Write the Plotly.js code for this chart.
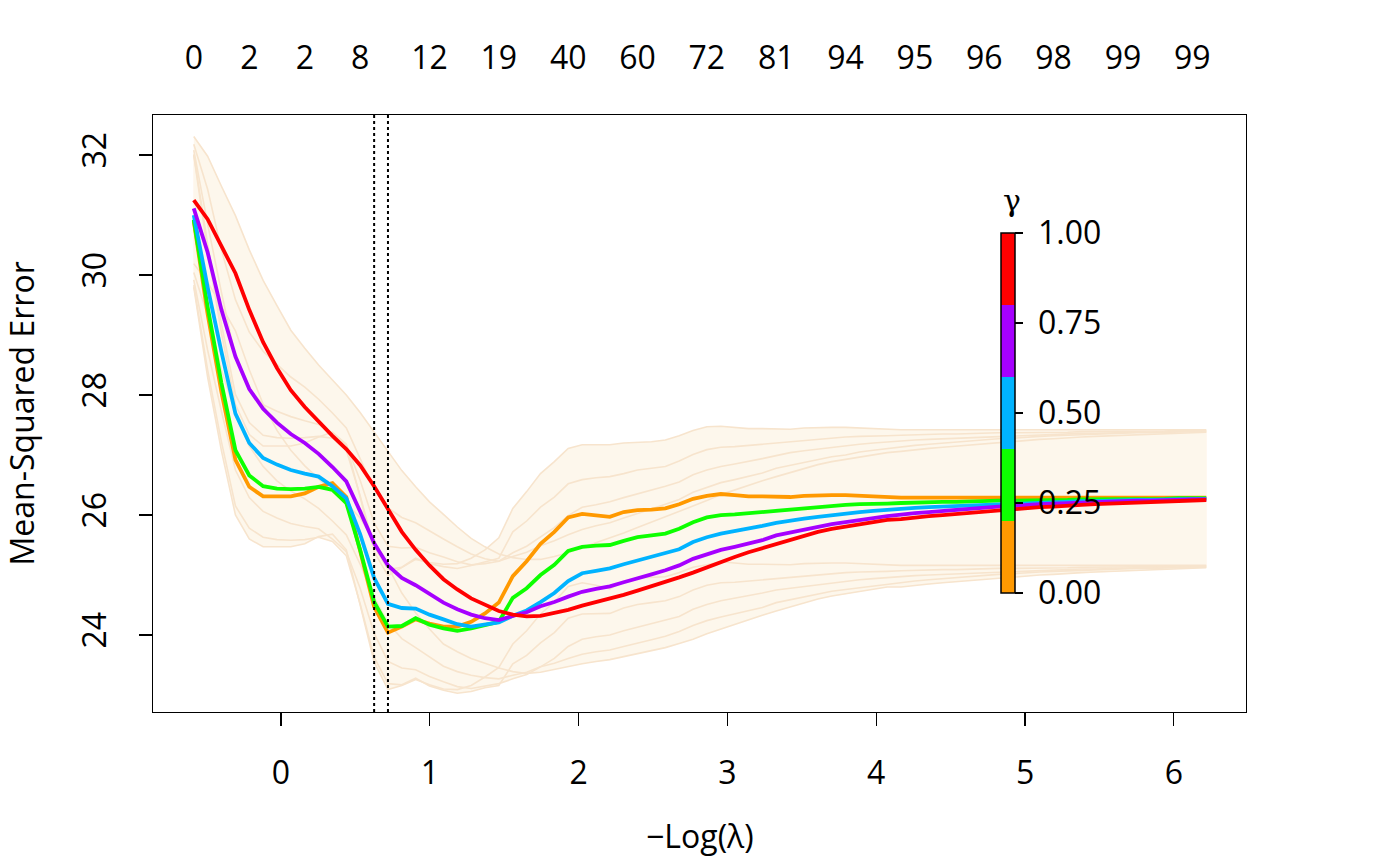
<!DOCTYPE html>
<html>
<head>
<meta charset="utf-8">
<script src="https://cdn.plot.ly/plotly-3.0.1.min.js"></script>
<style>
  html, body { margin: 0; padding: 0; background: #fff; }
  #chart { width: 1400px; height: 866px; }
</style>
</head>
<body>
<div id="chart"></div>
<script>
// -log(lambda) path of the relaxed fit
var logLambda = [
  -0.586, -0.493, -0.400, -0.306, -0.213, -0.120, -0.027, 0.066, 0.160, 0.253,
  0.346, 0.439, 0.532, 0.626, 0.719, 0.812, 0.905, 0.998, 1.092, 1.185,
  1.278, 1.371, 1.464, 1.558, 1.651, 1.744, 1.837, 1.930, 2.024, 2.117,
  2.210, 2.303, 2.396, 2.490, 2.583, 2.676, 2.769, 2.862, 2.956, 3.049,
  3.142, 3.235, 3.328, 3.422, 3.515, 3.608, 3.701, 3.794, 3.888, 3.981,
  4.074, 4.167, 4.260, 4.354, 4.447, 4.540, 4.633, 4.726, 4.820, 4.913,
  5.006, 5.099, 5.192, 5.286, 5.379, 5.472, 5.565, 5.658, 5.752, 5.845,
  5.938, 6.031, 6.124, 6.218
];

// number of nonzero coefficients (top axis), at path positions
var nzeroIdx    = [0, 4, 8, 12, 17, 22, 27, 32, 37, 42, 47, 52, 57, 62, 67, 72];
var nzeroLabels = ["0", "2", "2", "8", "12", "19", "40", "60", "72", "81", "94", "95", "96", "98", "99", "99"];

// lambda.1se and lambda.min positions
var idx1se = 13;
var idxMin = 14;

var gammas = [0, 0.25, 0.5, 0.75, 1];
var gammaColors = ["#FF9900", "#0DFF00", "#00B3FF", "#A600FF", "#FF0000"];

// mean CV error per gamma
var cvm_g0 = [
  30.90, 29.35, 28.05, 26.92, 26.47, 26.31, 26.31, 26.31, 26.36, 26.47,
  26.53, 26.30, 25.40, 24.47, 24.04, 24.14, 24.26, 24.19, 24.14, 24.14,
  24.22, 24.36, 24.54, 24.98, 25.23, 25.52, 25.72, 25.96, 26.02, 26.00,
  25.97, 26.05, 26.08, 26.09, 26.11, 26.18, 26.27, 26.32, 26.35, 26.33,
  26.31, 26.31, 26.31, 26.30, 26.32, 26.33, 26.33, 26.33, 26.32, 26.30,
  26.29, 26.29, 26.29, 26.29, 26.29, 26.29, 26.29, 26.29, 26.29, 26.29,
  26.29, 26.29, 26.29, 26.29, 26.29, 26.29, 26.29, 26.29, 26.29, 26.29,
  26.29, 26.29, 26.29, 26.29
];
var cvm_g25 = [
  30.92, 29.47, 28.20, 27.08, 26.66, 26.48, 26.44, 26.43, 26.44, 26.47,
  26.42, 26.20, 25.42, 24.55, 24.14, 24.15, 24.28, 24.17, 24.11, 24.07,
  24.11, 24.17, 24.22, 24.62, 24.78, 25.00, 25.17, 25.40, 25.47, 25.49,
  25.50, 25.57, 25.63, 25.66, 25.69, 25.77, 25.88, 25.96, 26.00, 26.01,
  26.03, 26.05, 26.07, 26.09, 26.12, 26.14, 26.15, 26.17, 26.18, 26.18,
  26.19, 26.20, 26.21, 26.21, 26.22, 26.22, 26.23, 26.23, 26.24, 26.24,
  26.24, 26.25, 26.25, 26.25, 26.26, 26.26, 26.26, 26.27, 26.27, 26.27,
  26.27, 26.28, 26.28, 26.28
];
var cvm_g50 = [
  31.00, 29.80, 28.72, 27.69, 27.20, 26.95, 26.84, 26.75, 26.69, 26.64,
  26.48, 26.28, 25.68, 24.95, 24.52, 24.45, 24.44, 24.34, 24.26, 24.18,
  24.14, 24.17, 24.21, 24.32, 24.41, 24.55, 24.70, 24.90, 25.03, 25.07,
  25.11, 25.18, 25.24, 25.30, 25.36, 25.43, 25.55, 25.63, 25.69, 25.73,
  25.77, 25.82, 25.87, 25.91, 25.94, 25.97, 26.00, 26.03, 26.05, 26.07,
  26.09, 26.11, 26.12, 26.13, 26.14, 26.15, 26.16, 26.17, 26.18, 26.19,
  26.20, 26.21, 26.22, 26.22, 26.23, 26.23, 26.24, 26.24, 26.25, 26.25,
  26.26, 26.26, 26.27, 26.27
];
var cvm_g75 = [
  31.11, 30.38, 29.42, 28.64, 28.10, 27.77, 27.54, 27.35, 27.20, 27.02,
  26.80, 26.56, 26.06, 25.53, 25.16, 24.95, 24.83, 24.68, 24.54, 24.43,
  24.34, 24.28, 24.25, 24.32, 24.38, 24.48, 24.55, 24.64, 24.72, 24.77,
  24.81, 24.88, 24.94, 25.01, 25.08, 25.16, 25.27, 25.35, 25.42, 25.47,
  25.52, 25.58, 25.66, 25.71, 25.76, 25.81, 25.85, 25.88, 25.92, 25.95,
  25.98, 26.01, 26.03, 26.05, 26.07, 26.09, 26.11, 26.12, 26.14, 26.15,
  26.17, 26.18, 26.19, 26.20, 26.21, 26.22, 26.23, 26.23, 26.24, 26.24,
  26.25, 26.25, 26.26, 26.26
];
var cvm_g100 = [
  31.25, 30.93, 30.48, 30.03, 29.42, 28.88, 28.45, 28.08, 27.80, 27.55,
  27.32, 27.10, 26.83, 26.48, 26.10, 25.72, 25.42, 25.16, 24.93, 24.76,
  24.61, 24.50, 24.40, 24.34, 24.31, 24.32, 24.37, 24.42, 24.49, 24.55,
  24.60, 24.67, 24.74, 24.81, 24.88, 24.96, 25.04, 25.13, 25.22, 25.30,
  25.38, 25.45, 25.52, 25.59, 25.66, 25.72, 25.77, 25.81, 25.84, 25.88,
  25.92, 25.93, 25.96, 25.98, 26.00, 26.02, 26.04, 26.06, 26.08, 26.10,
  26.11, 26.13, 26.14, 26.16, 26.17, 26.18, 26.19, 26.20, 26.21, 26.22,
  26.23, 26.24, 26.24, 26.25
];

// CV standard error per gamma
var cvsd_g0 = [
  1.10, 1.05, 0.98, 0.92, 0.87, 0.84, 0.84, 0.84, 0.84, 0.83,
  0.85, 0.88, 0.90, 0.92, 0.95, 0.98, 1.00, 1.02, 1.04, 1.05,
  1.06, 1.06, 1.08, 1.13, 1.16, 1.17, 1.17, 1.15, 1.15, 1.17,
  1.20, 1.15, 1.13, 1.13, 1.14, 1.14, 1.14, 1.15, 1.13, 1.13,
  1.13, 1.13, 1.13, 1.13, 1.13, 1.13, 1.13, 1.13, 1.13, 1.13,
  1.13, 1.13, 1.13, 1.13, 1.13, 1.13, 1.13, 1.13, 1.13, 1.13,
  1.13, 1.13, 1.13, 1.13, 1.13, 1.13, 1.13, 1.13, 1.13, 1.13,
  1.13, 1.13, 1.13, 1.13
];
var cvsd_g25 = [
  1.09, 1.05, 0.98, 0.93, 0.88, 0.85, 0.85, 0.85, 0.85, 0.84,
  0.86, 0.88, 0.90, 0.92, 0.95, 0.98, 1.00, 1.02, 1.03, 1.04,
  1.05, 1.05, 1.06, 1.10, 1.12, 1.13, 1.13, 1.12, 1.12, 1.13,
  1.14, 1.12, 1.12, 1.12, 1.12, 1.13, 1.13, 1.13, 1.13, 1.13,
  1.13, 1.13, 1.13, 1.13, 1.13, 1.13, 1.13, 1.13, 1.13, 1.13,
  1.13, 1.13, 1.13, 1.13, 1.13, 1.13, 1.13, 1.13, 1.13, 1.13,
  1.13, 1.13, 1.13, 1.13, 1.13, 1.13, 1.13, 1.13, 1.13, 1.13,
  1.13, 1.13, 1.13, 1.13
];
var cvsd_g50 = [
  1.08, 1.05, 0.99, 0.94, 0.91, 0.89, 0.89, 0.89, 0.88, 0.87,
  0.88, 0.89, 0.90, 0.92, 0.96, 1.00, 1.02, 1.03, 1.04, 1.04,
  1.03, 1.02, 1.02, 1.05, 1.07, 1.08, 1.09, 1.09, 1.10, 1.10,
  1.11, 1.11, 1.11, 1.11, 1.12, 1.12, 1.12, 1.12, 1.12, 1.12,
  1.12, 1.12, 1.12, 1.13, 1.13, 1.13, 1.13, 1.13, 1.13, 1.13,
  1.13, 1.13, 1.13, 1.13, 1.13, 1.13, 1.13, 1.13, 1.13, 1.13,
  1.13, 1.13, 1.13, 1.13, 1.13, 1.13, 1.13, 1.13, 1.13, 1.13,
  1.13, 1.13, 1.13, 1.13
];
var cvsd_g75 = [
  1.07, 1.05, 1.00, 0.95, 0.95, 0.96, 0.97, 0.95, 0.93, 0.91,
  0.90, 0.89, 0.88, 0.90, 0.96, 1.01, 1.04, 1.05, 1.06, 1.04,
  1.01, 0.99, 0.98, 0.99, 1.00, 1.01, 1.02, 1.03, 1.04, 1.05,
  1.06, 1.07, 1.08, 1.09, 1.10, 1.10, 1.11, 1.11, 1.12, 1.12,
  1.12, 1.12, 1.12, 1.12, 1.12, 1.12, 1.12, 1.12, 1.13, 1.13,
  1.13, 1.13, 1.13, 1.13, 1.13, 1.13, 1.13, 1.13, 1.13, 1.13,
  1.13, 1.13, 1.13, 1.13, 1.13, 1.13, 1.13, 1.13, 1.13, 1.13,
  1.13, 1.13, 1.13, 1.13
];
var cvsd_g100 = [
  1.06, 1.05, 1.00, 0.96, 1.00, 1.03, 1.04, 1.00, 0.98, 0.95,
  0.93, 0.90, 0.88, 0.90, 0.97, 1.02, 1.05, 1.06, 1.08, 1.04,
  1.00, 0.97, 0.95, 0.95, 0.95, 0.94, 0.94, 0.95, 0.97, 0.99,
  1.01, 1.03, 1.05, 1.07, 1.09, 1.10, 1.11, 1.11, 1.12, 1.12,
  1.12, 1.12, 1.12, 1.12, 1.12, 1.12, 1.12, 1.12, 1.12, 1.12,
  1.12, 1.13, 1.13, 1.13, 1.13, 1.13, 1.13, 1.13, 1.13, 1.13,
  1.13, 1.13, 1.13, 1.13, 1.13, 1.13, 1.13, 1.13, 1.13, 1.13,
  1.13, 1.13, 1.13, 1.13
];

var cvmList  = [cvm_g0, cvm_g25, cvm_g50, cvm_g75, cvm_g100];
var cvsdList = [cvsd_g0, cvsd_g25, cvsd_g50, cvsd_g75, cvsd_g100];

var FONT = "Open Sans, Noto Sans, sans-serif";
var FS = 32;
var bandFill = "#FDF7EC";
var bandEdge = "#F7E4CD";

var traces = [];

// band fills first, so every edge line stays visible
cvmList.forEach(function (m, g) {
  var sd = cvsdList[g];
  var up = m.map(function (v, i) { return v + sd[i]; });
  var lo = m.map(function (v, i) { return v - sd[i]; });
  traces.push({
    x: logLambda.concat(logLambda.slice().reverse()),
    y: up.concat(lo.slice().reverse()),
    type: "scatter", mode: "lines", fill: "toself",
    fillcolor: bandFill, line: { width: 0 },
    hoverinfo: "skip", showlegend: false
  });
});

// band edges
cvmList.forEach(function (m, g) {
  var sd = cvsdList[g];
  [1, -1].forEach(function (s) {
    traces.push({
      x: logLambda,
      y: m.map(function (v, i) { return v + s * sd[i]; }),
      type: "scatter", mode: "lines",
      line: { color: bandEdge, width: 1.6 },
      hoverinfo: "skip", showlegend: false
    });
  });
});

// cv curves, gamma 0 first, gamma 1 on top
cvmList.forEach(function (m, g) {
  traces.push({
    x: logLambda, y: m,
    type: "scatter", mode: "lines",
    line: { color: gammaColors[g], width: 3.8 },
    name: "gamma = " + gammas[g], showlegend: false
  });
});

// discrete colour key for gamma (also carries the top axis)
var cscale = [];
gammaColors.forEach(function (c, k) {
  cscale.push([k / gammaColors.length, c]);
  cscale.push([(k + 1) / gammaColors.length, c]);
});
traces.push({
  x: [logLambda[0], logLambda[0]], y: [cvm_g100[0], cvm_g100[0]],
  xaxis: "x2",
  type: "scatter", mode: "markers", hoverinfo: "skip", showlegend: false,
  marker: {
    size: 1, opacity: 0,
    color: [gammas[0], gammas[gammas.length - 1]],
    cmin: 0, cmax: 1, colorscale: cscale, showscale: true,
    colorbar: {
      x: 0.7758, xanchor: "left", xpad: 0,
      y: 0.5008, yanchor: "middle", ypad: 0,
      thickness: 14, thicknessmode: "pixels",
      len: 360, lenmode: "pixels",
      outlinewidth: 1.5, outlinecolor: "#000",
      tickmode: "array", tickvals: gammas,
      ticktext: gammas.map(function (v) { return "\u00a0" + v.toFixed(2); }),
      ticks: "outside", ticklen: 8, tickwidth: 1.5, tickcolor: "#000",
      tickfont: { family: FONT, size: FS, color: "#000" }
    }
  }
});

var layout = {
  width: 1400, height: 866,
  margin: { l: 153, r: 154, t: 115, b: 154 },
  paper_bgcolor: "#fff", plot_bgcolor: "#fff",
  showlegend: false,
  font: { family: FONT, color: "#000" },
  xaxis: {
    range: [-0.860, 6.485],
    tickmode: "array", tickvals: [0, 1, 2, 3, 4, 5, 6],
    ticks: "outside", ticklen: 13, tickwidth: 1.3, tickcolor: "#000",
    ticklabelstandoff: 19,
    tickfont: { family: FONT, size: FS, color: "#000" },
    showline: true, mirror: true, linecolor: "#000", linewidth: 1.3,
    showgrid: false, zeroline: false
  },
  xaxis2: {
    overlaying: "x", side: "top", anchor: "y",
    range: [-0.860, 6.485],
    tickmode: "array",
    tickvals: nzeroIdx.map(function (i) { return logLambda[i]; }),
    ticktext: nzeroLabels,
    ticks: "", ticklabelstandoff: 39,
    tickfont: { family: FONT, size: FS, color: "#000" },
    showline: false, showgrid: false, zeroline: false
  },
  yaxis: {
    range: [22.717, 32.667],
    tickmode: "array", tickvals: [24, 26, 28, 30, 32],
    tickangle: -90,
    ticks: "outside", ticklen: 13, tickwidth: 1.3, tickcolor: "#000",
    ticklabelstandoff: 20,
    tickfont: { family: FONT, size: FS, color: "#000" },
    showline: true, mirror: true, linecolor: "#000", linewidth: 1.3,
    showgrid: false, zeroline: false
  },
  shapes: [idx1se, idxMin].map(function (i) {
    return {
      type: "line", xref: "x", yref: "paper",
      x0: logLambda[i], x1: logLambda[i], y0: 0, y1: 1,
      line: { color: "#000", width: 2, dash: "dot" }
    };
  }),
  annotations: [
    {
      text: "Mean-Squared Error", textangle: -90,
      xref: "paper", yref: "paper", x: -0.1199, y: 0.5,
      xanchor: "center", yanchor: "middle", showarrow: false,
      font: { family: FONT, size: FS, color: "#000" }
    },
    {
      text: "\u2212Log(\u03bb)",
      xref: "paper", yref: "paper", x: 0.5, y: -0.2077,
      xanchor: "center", yanchor: "middle", showarrow: false,
      font: { family: FONT, size: FS, color: "#000" }
    },
    {
      text: "\u03b3",
      xref: "paper", yref: "paper", x: 0.7859, y: 0.8576,
      xanchor: "center", yanchor: "middle", showarrow: false,
      font: { family: "DejaVu Serif", size: 30, color: "#000" }
    }
  ]
};

Plotly.newPlot("chart", traces, layout, { displayModeBar: false, staticPlot: true });
</script>
</body>
</html>
